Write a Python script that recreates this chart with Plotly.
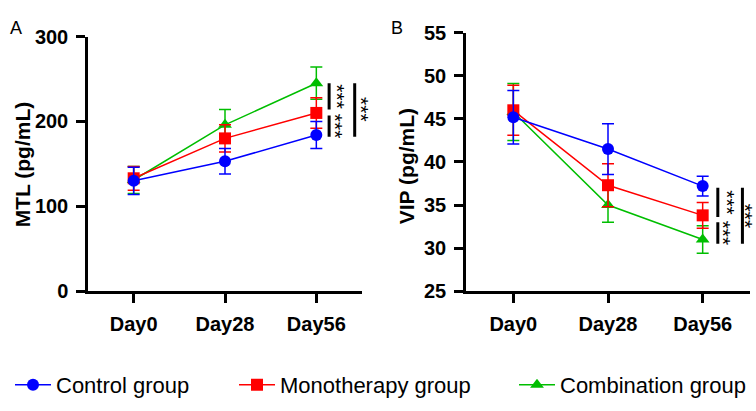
import plotly.graph_objects as go

days = ["Day0", "Day28", "Day56"]
groups = ["Control group", "Monotherapy group", "Combination group"]
colors = ["#0000FF", "#FF0000", "#00BE00"]
symbols = ["circle", "square", "triangle-up"]

# Panel A: MTL (pg/mL)
mtl_mean = {
    "Control group": [130, 153, 184],
    "Monotherapy group": [133, 180, 210],
    "Combination group": [131, 196, 245],
}
mtl_sd = {
    "Control group": [16, 15, 16],
    "Monotherapy group": [14, 16, 18],
    "Combination group": [16, 18, 19],
}
# Panel B: VIP (pg/mL)
vip_mean = {
    "Control group": [45.2, 41.5, 37.2],
    "Monotherapy group": [46.0, 37.3, 33.8],
    "Combination group": [45.8, 35.0, 31.0],
}
vip_sd = {
    "Control group": [3.1, 2.95, 1.15],
    "Monotherapy group": [2.9, 2.5, 1.5],
    "Combination group": [3.3, 2.0, 1.6],
}

# significance brackets at Day56: (y_low, y_high, label)
sig_a = [(214, 245, "***"), (182, 207, "***"), (182, 245, "***")]
sig_b = [(33.6, 37.0, "***"), (30.5, 33.0, "***"), (30.5, 37.0, "***")]

FONT = "Liberation Sans, Arial, sans-serif"
W, H = 756, 411
XR_A = [-0.5, 2.5]
XR_B = [-0.5, 2.5]
DOM_A = [88, 362]
DOM_B = [466, 750]

fig = go.Figure()

draw_order = [2, 1, 0]
for panel, (means, sds, xa, ya) in enumerate([(mtl_mean, mtl_sd, "x", "y"), (vip_mean, vip_sd, "x2", "y2")]):
    for gi in draw_order:
        g = groups[gi]
        fig.add_trace(go.Scatter(
            x=list(range(len(days))), y=means[g],
            error_y=dict(type="data", array=sds[g], visible=True, color=colors[gi], thickness=1.5, width=6),
            mode="lines+markers",
            line=dict(color=colors[gi], width=1.5),
            marker=dict(symbol=symbols[gi], size=12, color=colors[gi]),
            name=g, xaxis=xa, yaxis=ya,
            showlegend=(panel == 0),
            legend=["legend", "legend2", "legend3"][gi],
            cliponaxis=False,
        ))

def px_x(p):
    return p / W

def px_y(p):
    return 1 - p / H

axis_common = dict(
    showline=True, linecolor="black", linewidth=2.5,
    ticks="outside", ticklen=9, tickwidth=2.5, tickcolor="black",
    showgrid=False, zeroline=False, ticklabelstandoff=4,
    tickfont=dict(family=FONT, size=20, color="black", weight="bold"),
)

fig.update_layout(
    width=W, height=H,
    margin=dict(l=0, r=0, t=0, b=0),
    plot_bgcolor="white", paper_bgcolor="white",
    xaxis=dict(domain=[px_x(DOM_A[0]), px_x(DOM_A[1])], range=XR_A, tickvals=[0, 1, 2], ticktext=days,
               anchor="y", **axis_common),
    yaxis=dict(domain=[px_y(296), px_y(27)], range=[0, 300], tickvals=[0, 100, 200, 300],
               anchor="x", **axis_common),
    xaxis2=dict(domain=[px_x(DOM_B[0]), px_x(DOM_B[1])], range=XR_B, tickvals=[0, 1, 2], ticktext=days,
                anchor="y2", **axis_common),
    yaxis2=dict(domain=[px_y(296), px_y(23)], range=[25, 55], tickvals=[25, 30, 35, 40, 45, 50, 55],
                anchor="x2", **axis_common),
)

leg_common = dict(orientation="h", yanchor="middle", y=px_y(395), xanchor="left",
                  font=dict(family=FONT, size=22, color="black"), bgcolor="rgba(0,0,0,0)",
                  itemwidth=36, tracegroupgap=0)
fig.update_layout(
    legend=dict(x=px_x(10), **leg_common),
    legend2=dict(x=px_x(234), **leg_common),
    legend3=dict(x=px_x(514), **leg_common),
)

STAR_SHIFT = -2  # px: asterisk glyph sits high in its em box, rotated it shifts right
shapes = []
annotations = []
for sig, yr, rng, dom, xb, xs in [(sig_a, "y", XR_A, DOM_A, [2.14, 2.14, 2.42], [2.26, 2.24, 2.51]),
                                  (sig_b, "y2", XR_B, DOM_B, [2.16, 2.16, 2.42], [2.28, 2.25, 2.47])]:
    def to_px(v):
        return dom[0] + (v - rng[0]) / (rng[1] - rng[0]) * (dom[1] - dom[0])
    for (y0, y1, lab), bx, sx in zip(sig, xb, xs):
        shapes.append(dict(type="line", xref="paper", yref=yr, x0=px_x(to_px(bx)), x1=px_x(to_px(bx)),
                           y0=y0, y1=y1, line=dict(color="black", width=3)))
        annotations.append(dict(xref="paper", yref=yr, x=px_x(to_px(sx) + STAR_SHIFT), y=(y0 + y1) / 2,
                                text=lab, showarrow=False, textangle=90, xanchor="center", yanchor="middle",
                                font=dict(family=FONT, size=21, color="black")))

annotations += [
    dict(xref="paper", yref="paper", x=px_x(22), y=px_y(162), text="MTL (pg/mL)", textangle=-90,
         xanchor="center", yanchor="middle",
         showarrow=False, font=dict(family=FONT, size=21, color="black", weight="bold")),
    dict(xref="paper", yref="paper", x=px_x(406), y=px_y(164), text="VIP (pg/mL)", textangle=-90,
         xanchor="center", yanchor="middle",
         showarrow=False, font=dict(family=FONT, size=21, color="black", weight="bold")),
    dict(xref="paper", yref="paper", x=px_x(16), y=px_y(18), text="A", showarrow=False,
         xanchor="center", yanchor="middle", font=dict(family=FONT, size=18, color="black")),
    dict(xref="paper", yref="paper", x=px_x(397), y=px_y(18), text="B", showarrow=False,
         xanchor="center", yanchor="middle", font=dict(family=FONT, size=18, color="black")),
]
fig.update_layout(shapes=shapes, annotations=annotations)

fig.write_html("out.html", config={"displayModeBar": False},
               post_script="document.documentElement.style.margin='0';document.body.style.margin='0';"
                           "document.documentElement.style.overflow='hidden';document.body.style.overflow='hidden';")
